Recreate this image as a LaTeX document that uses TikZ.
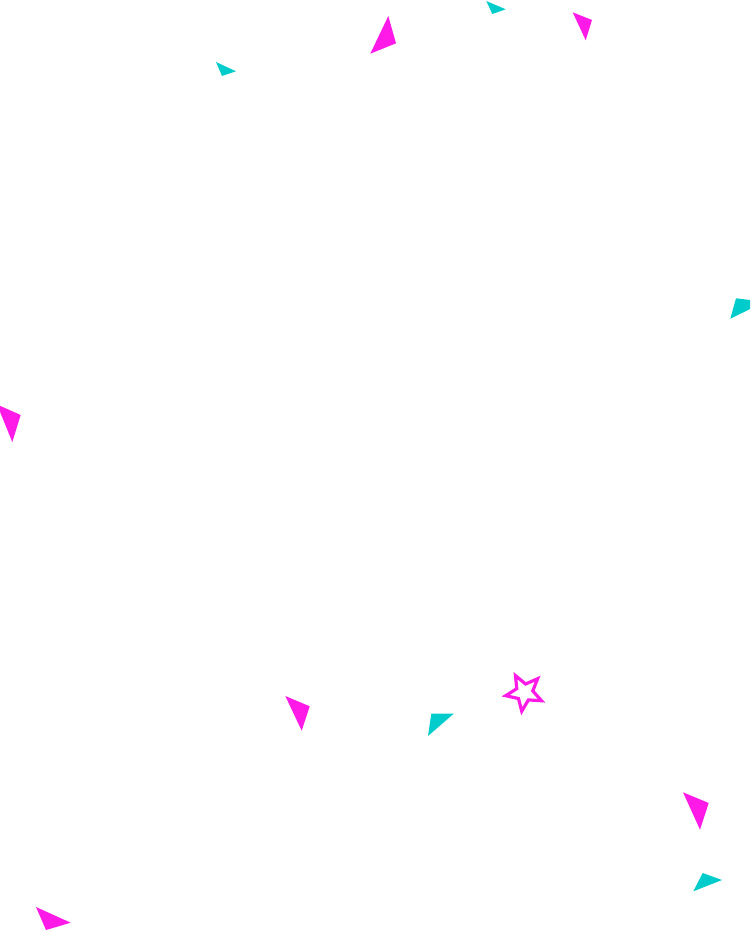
\documentclass[tikz,border=0pt]{standalone}
\definecolor{conpink}{RGB}{255,26,232}
\definecolor{concyan}{RGB}{0,204,204}
\begin{document}
\begin{tikzpicture}[x=1pt,y=-1pt]
\tikzset{pinkbit/.style={fill=conpink,draw=none},cyanbit/.style={fill=concyan,draw=none}}
\useasboundingbox (0,0) rectangle (750,931);
\clip (0,0) rectangle (750,931);
% top region
\fill[cyanbit] (216,62) -- (236,71.3) -- (222,76) -- cycle;
\fill[pinkbit] (388.3,16) -- (396,43.3) -- (370.3,53.7) -- cycle;
\fill[cyanbit] (486.3,1) -- (505.7,9.3) -- (492.3,14) -- cycle;
\fill[pinkbit] (572.7,12.3) -- (592,20) -- (585.7,40.3) -- cycle;
% edges
\fill[cyanbit] (736,298.3) -- (765,301.8) -- (730.3,318.7) -- cycle;
\fill[pinkbit] (-3,404.5) -- (20.7,415) -- (12.3,442) -- cycle;
% lower middle
\fill[pinkbit] (285.3,696) -- (309.7,706.3) -- (301.7,730.7) -- cycle;
\fill[cyanbit] (431.3,713.7) -- (453.7,713.7) -- (428,736) -- cycle;
\draw[conpink,line width=3.2pt,line join=miter]
  (524.4,692.4) ++(-118:19) -- ++(0,0)
  (524.4,692.4) +(-118:19) -- +(-154:8.5) -- +(-190:19) -- +(-226:8.5)
  -- +(-262:19) -- +(-298:8.5) -- +(-334:19) -- +(-10:8.5)
  -- +(-46:19) -- +(-82:8.5) -- cycle;
% lower right
\fill[pinkbit] (683,792.3) -- (708.7,803) -- (700,829.7) -- cycle;
\fill[cyanbit] (702.7,873) -- (722,880) -- (693.3,891.3) -- cycle;
% bottom left
\fill[pinkbit] (36,907) -- (70.7,922.7) -- (46,930) -- cycle;
\end{tikzpicture}
\end{document}
